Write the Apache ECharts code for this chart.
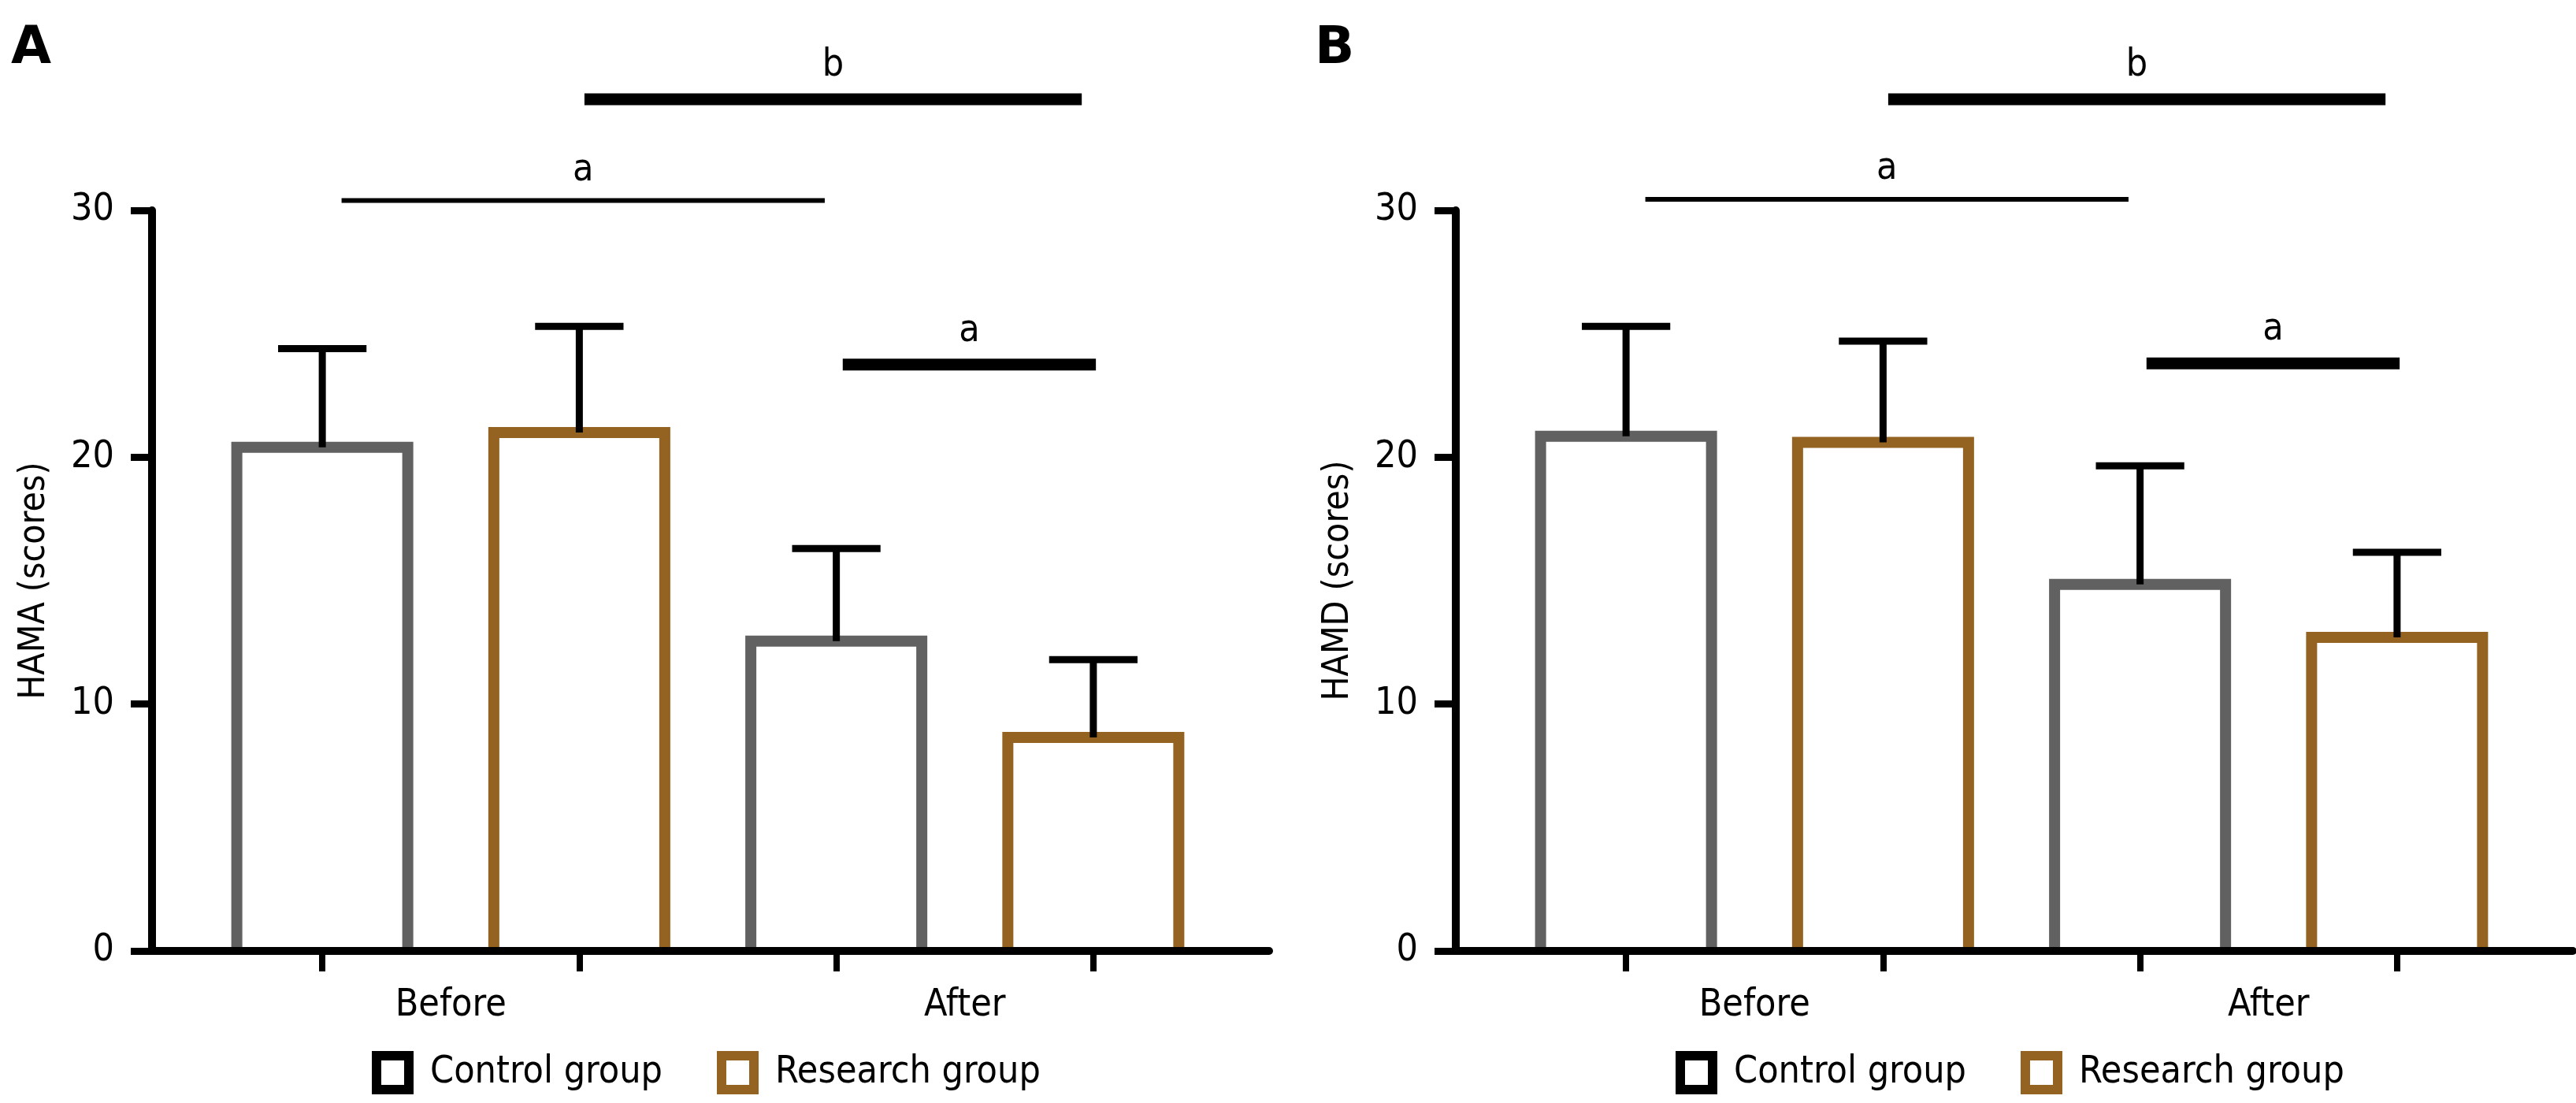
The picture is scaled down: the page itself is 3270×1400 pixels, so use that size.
<!DOCTYPE html>
<html>
<head>
<meta charset="utf-8">
<script src="https://cdn.jsdelivr.net/npm/echarts@6/dist/echarts.min.js"></script>
<style>
  html, body { margin: 0; padding: 0; background: #fff; }
  #chart { width: 3270px; height: 1400px; }
</style>
</head>
<body>
<div id="chart"></div>
<script>
// x axis groups and the two series
const groups = ['Before', 'After'];
const seriesNames = ['Control group', 'Research group'];

// y axis ticks
const yMin = 0;
const yMax = 30;
const yStep = 10;

// panel A - HAMA, mean and SD per group
const hamaControl = [20.4, 12.55];
const hamaControlSd = [4.0, 3.75];
const hamaResearch = [21.0, 8.65];
const hamaResearchSd = [4.3, 3.15];
// significance bars: [from bar, to bar, level, label, heavy]
const hamaSig = [
  [0.075, 1.955, 30.4, 'a', 0],
  [1.02, 2.955, 34.5, 'b', 1],
  [2.025, 3.01, 23.75, 'a', 1]
];

// panel B - HAMD
const hamdControl = [20.85, 14.85];
const hamdControlSd = [4.45, 4.8];
const hamdResearch = [20.6, 12.7];
const hamdResearchSd = [4.1, 3.45];
const hamdSig = [
  [0.075, 1.955, 30.45, 'a', 0],
  [1.02, 2.955, 34.5, 'b', 1],
  [2.025, 3.01, 23.8, 'a', 1]
];

const FONT = '"DejaVu Sans Condensed", "DejaVu Sans", sans-serif';
const GRAY = '#616161';
const BROWN = '#946322';

// one slot per bar, used for bars, ticks and error bars
const slots = [];
groups.forEach(g => seriesNames.forEach(s => slots.push(g + ' ' + s)));

const panels = [
  { letter: 'A', yName: 'HAMA (scores)', means: [hamaControl, hamaResearch], sds: [hamaControlSd, hamaResearchSd], sig: hamaSig },
  { letter: 'B', yName: 'HAMD (scores)', means: [hamdControl, hamdResearch], sds: [hamdControlSd, hamdResearchSd], sig: hamdSig }
];

const option = {
  animation: false,
  backgroundColor: '#fff',
  title: [], legend: [], grid: [], xAxis: [], yAxis: [], series: []
};

panels.forEach((p, k) => {
  const dx = k * 1655;
  const g0 = option.grid.length;
  option.grid.push({ left: 193 + dx, top: 267, width: 1418, height: 940 });
  option.grid.push({ left: 246 + dx, top: 267, width: 1305, height: 940 });

  option.title.push({
    text: p.letter, left: 14 + dx, top: 30, padding: 0,
    textStyle: { fontSize: 66, fontWeight: 'bold', fontFamily: 'DejaVu Sans', color: '#000' }
  });

  const xa = option.xAxis.length;
  // frame axis: just the line
  option.xAxis.push({
    gridIndex: g0, type: 'value', min: 0, max: 1, z: 5,
    axisLine: { lineStyle: { color: '#000', width: 10 } },
    axisTick: { show: false }, axisLabel: { show: false }, splitLine: { show: false }
  });
  // group labels
  option.xAxis.push({
    gridIndex: g0 + 1, type: 'category', position: 'bottom', data: groups,
    axisLine: { show: false }, axisTick: { show: false },
    axisLabel: { margin: 46, color: '#000', fontSize: 48, fontFamily: FONT }
  });
  // one slot and tick per bar
  option.xAxis.push({
    gridIndex: g0 + 1, type: 'category', position: 'bottom', data: slots,
    axisLine: { show: false },
    axisTick: { show: true, alignWithLabel: true, length: 26, lineStyle: { color: '#000', width: 8 } },
    axisLabel: { show: false }
  });

  const ya = option.yAxis.length;
  option.yAxis.push({
    gridIndex: g0, type: 'value', min: yMin, max: yMax, interval: yStep,
    name: p.yName, nameLocation: 'middle', nameGap: 126,
    nameTextStyle: { fontSize: 46, fontFamily: FONT, color: '#000' },
    axisLine: { show: true, lineStyle: { color: '#000', width: 10 } },
    axisTick: { show: true, length: 27, lineStyle: { color: '#000', width: 9 } },
    axisLabel: { margin: 48, fontSize: 48, fontFamily: FONT, color: '#000' },
    splitLine: { show: false }
  });
  option.yAxis.push({ gridIndex: g0 + 1, type: 'value', min: yMin, max: yMax, show: false });

  // open-bottom outlined bars, border centred on the mean
  [GRAY, BROWN].forEach((c, si) => {
    option.series.push({
      name: seriesNames[si], type: 'custom', xAxisIndex: xa + 2, yAxisIndex: ya + 1, clip: false, z: 2,
      itemStyle: { color: '#fff', borderColor: c },
      data: groups.map((g, gi) => [gi * 2 + si, p.means[si][gi]]),
      renderItem(params, api) {
        const top = api.coord([api.value(0), api.value(1)]);
        const bottom = api.coord([api.value(0), 0])[1];
        const h = api.size([1, 0])[0] * 0.3326;
        return {
          type: 'polyline',
          shape: { points: [[top[0] - h, bottom], [top[0] - h, top[1]], [top[0] + h, top[1]], [top[0] + h, bottom]] },
          style: { fill: 'none', stroke: c, lineWidth: 14, lineJoin: 'miter' }
        };
      }
    });
  });

  const errData = [];
  groups.forEach((g, gi) => {
    [0, 1].forEach(si => errData.push([gi * 2 + si, p.means[si][gi], p.sds[si][gi]]));
  });
  option.series.push({
    type: 'custom', xAxisIndex: xa + 2, yAxisIndex: ya + 1, clip: false, z: 3,
    data: errData,
    renderItem(params, api) {
      const i = api.value(0);
      const base = api.coord([i, api.value(1)]);
      const top = api.coord([i, api.value(1) + api.value(2)]);
      const half = api.size([1, 0])[0] * 0.172;
      return {
        type: 'group', children: [
          { type: 'line', shape: { x1: base[0], y1: base[1], x2: base[0], y2: top[1] }, style: { stroke: '#000', lineWidth: 9 } },
          { type: 'line', shape: { x1: base[0] - half, y1: top[1], x2: base[0] + half, y2: top[1] }, style: { stroke: '#000', lineWidth: 9 } }
        ]
      };
    }
  });

  option.series.push({
    type: 'custom', xAxisIndex: xa + 2, yAxisIndex: ya + 1, clip: false, z: 3,
    data: p.sig.map(s => [s[0], s[1], s[2]]),
    renderItem(params, api) {
      const s = p.sig[params.dataIndex];
      const slotW = api.size([1, 0])[0];
      const x0 = api.coord([0, 0])[0];
      const xa1 = x0 + api.value(0) * slotW;
      const xb1 = x0 + api.value(1) * slotW;
      const y = api.coord([0, api.value(2)])[1];
      const w = s[4] ? 15 : 6;
      return {
        type: 'group', children: [
          { type: 'line', shape: { x1: xa1, y1: y, x2: xb1, y2: y }, style: { stroke: '#000', lineWidth: w } },
          { type: 'text', style: { text: s[3], x: (xa1 + xb1) / 2, y: y - w / 2 - 11, align: 'center', verticalAlign: 'bottom', fill: '#000', fontSize: 48, fontFamily: FONT } }
        ]
      };
    }
  });

  option.legend.push({
    left: 472 + dx, top: 1334, padding: 0, orient: 'horizontal',
    itemWidth: 41, itemHeight: 43, itemGap: 69, icon: 'rect', selectedMode: false,
    textStyle: { fontSize: 48, fontFamily: FONT, color: '#000', padding: [0, 0, 0, 22], lineHeight: 43 },
    data: [
      { name: seriesNames[0], itemStyle: { color: '#fff', borderColor: '#000', borderWidth: 12 } },
      { name: seriesNames[1], itemStyle: { color: '#fff', borderColor: BROWN, borderWidth: 12 } }
    ]
  });
});

const chart = echarts.init(document.getElementById('chart'));
chart.setOption(option);
</script>
</body>
</html>
